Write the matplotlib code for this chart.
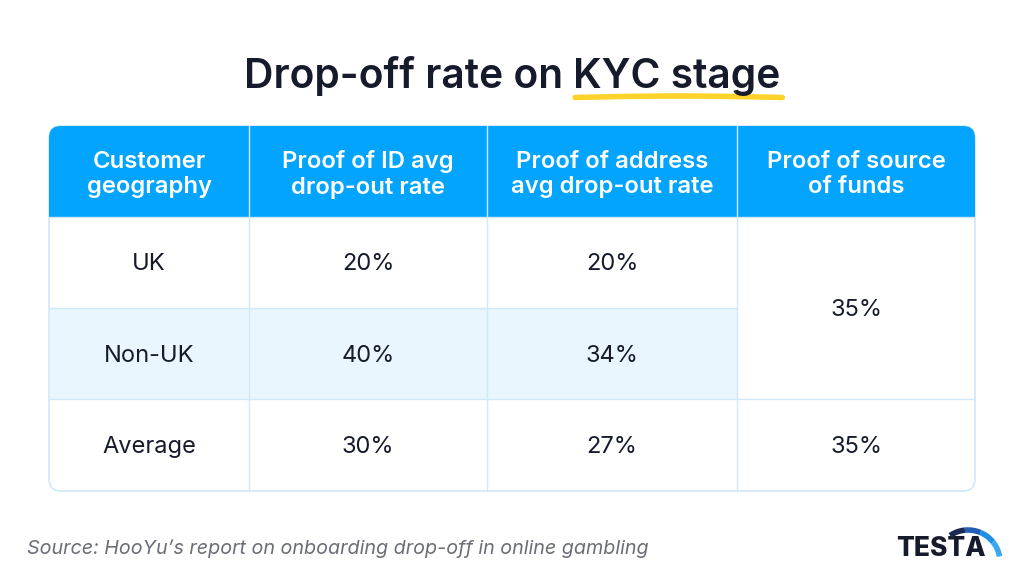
import numpy as np
import matplotlib
matplotlib.use("Agg")
import matplotlib.pyplot as plt
from matplotlib.patches import FancyBboxPatch, Rectangle, Arc

plt.rcParams['font.family'] = ['Inter', 'DejaVu Sans']

# --- data ---
title_plain = "Drop-off rate on "
title_marked = "KYC stage"
headers = ["Customer\ngeography", "Proof of ID avg\ndrop-out rate",
           "Proof of address\navg drop-out rate", "Proof of source\nof funds"]
geographies = ["UK", "Non-UK", "Average"]
id_rate = ["20%", "40%", "30%"]
address_rate = ["20%", "34%", "27%"]
funds_rate = ["35%", "35%"]          # UK + Non-UK merged, then Average
source = "Source: HooYu\u2019s report on onboarding drop-off in online gambling"

# --- style ---
HEADER_BLUE = '#02a4fd'
GRID = '#cfe9f8'
ROW_TINT = '#eaf6fd'
INK = '#161b2c'
YELLOW = '#ffd32a'

fig = plt.figure(figsize=(10.24, 5.85), dpi=100, facecolor='white')
ax = fig.add_axes([0, 0, 1, 1])
ax.set_xlim(0, 1024)
ax.set_ylim(585, 0)
ax.axis('off')

# table geometry (pixels)
col_x = [49, 249, 487, 737, 975]
row_y = [126, 217, 308, 399, 491]
left, right, top, bottom = col_x[0], col_x[-1], row_y[0], row_y[-1]
rad = 12

# table background + outline
ax.add_patch(FancyBboxPatch((left, top), right - left, bottom - top,
                            boxstyle=f"round,pad=0,rounding_size={rad}",
                            fc='white', ec=GRID, lw=1.2, zorder=1))
# tinted Non-UK row (first three columns)
ax.add_patch(Rectangle((left + 0.6, row_y[2]), col_x[3] - left - 0.6, row_y[3] - row_y[2],
                       fc=ROW_TINT, ec='none', zorder=2))
# header band
ax.add_patch(FancyBboxPatch((left, top), right - left, row_y[1] - top,
                            boxstyle=f"round,pad=0,rounding_size={rad}",
                            fc=HEADER_BLUE, ec='none', zorder=3))
ax.add_patch(Rectangle((left, row_y[1] - rad), right - left, rad,
                       fc=HEADER_BLUE, ec='none', zorder=3))

# grid lines
for x in col_x[1:-1]:
    ax.plot([x, x], [top, bottom], color=GRID, lw=1, zorder=4)
for i, y in enumerate(row_y[1:-1]):
    x_end = right if i != 1 else col_x[3]
    ax.plot([left, x_end], [y, y], color=GRID, lw=1, zorder=4)

# header text
for i, h in enumerate(headers):
    cx = (col_x[i] + col_x[i + 1]) / 2
    ax.text(cx, (row_y[0] + row_y[1]) / 2 + 3, h, ha='center', va='center',
            color='white', fontsize=17.2, fontweight='semibold',
            linespacing=1.2, zorder=5)

# body text
for r in range(3):
    cy = (row_y[r + 1] + row_y[r + 2]) / 2 + 2
    for c, val in enumerate([geographies[r], id_rate[r], address_rate[r]]):
        cx = (col_x[c] + col_x[c + 1]) / 2
        ax.text(cx, cy, val, ha='center', va='center', color=INK,
                fontsize=17, zorder=5)

cx = (col_x[3] + col_x[4]) / 2
ax.text(cx, (row_y[1] + row_y[3]) / 2 + 2, funds_rate[0], ha='center', va='center',
        color=INK, fontsize=17, zorder=5)
ax.text(cx, (row_y[3] + row_y[4]) / 2 + 2, funds_rate[1], ha='center', va='center',
        color=INK, fontsize=17, zorder=5)

# title with highlighted part
t1 = ax.text(0, 0, title_plain, fontsize=29.3, fontweight='semibold', color=INK)
t2 = ax.text(0, 0, title_marked, fontsize=29.3, fontweight='semibold', color=INK)
fig.canvas.draw()
r = fig.canvas.get_renderer()
w1 = t1.get_window_extent(r).width
w2 = t2.get_window_extent(r).width
x0 = 512 - (w1 + w2) / 2
t1.set_position((x0, 88))
t2.set_position((x0 + w1, 88))
t1.set_va('baseline')
t2.set_va('baseline')
ux = np.linspace(x0 + w1 + 2, x0 + w1 + w2 + 2, 50)
uy = 97.5 - 1.5 * np.sin(np.linspace(0, np.pi, 50))
ax.plot(ux, uy, color=YELLOW, lw=4, solid_capstyle='round', zorder=0)

# source note
ax.text(27, 549, source, ha='left', va='center', color='#6b6e78',
        fontsize=14.2, fontstyle='italic')

# logo
ax.text(896, 549, "TESTA", ha='left', va='center', color=INK,
        fontsize=19, fontweight='heavy')
arc_cols = ['#1b2a55', '#1f5fb8', '#1f8fe8', '#3aa8f5']
arc_edges = np.linspace(236, 350, len(arc_cols) + 1)
for k, colr in enumerate(arc_cols):
    ax.add_patch(Arc((968, 562), 64, 64, theta1=arc_edges[k], theta2=arc_edges[k + 1],
                     color=colr, lw=4, zorder=5))

fig.savefig("out.png", dpi=100, facecolor='white')
